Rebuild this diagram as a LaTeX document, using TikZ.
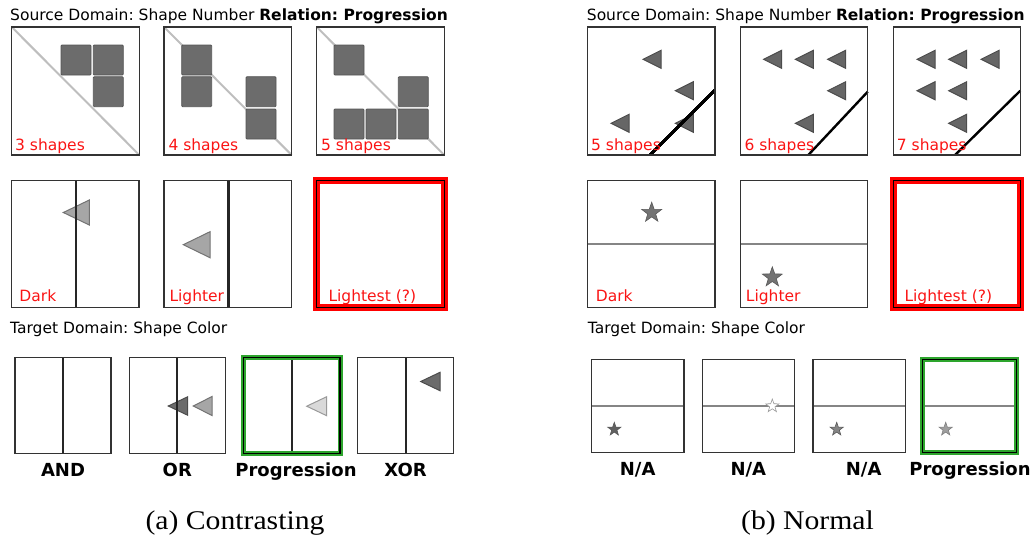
\documentclass[tikz,border=0pt]{standalone}
\usepackage{fontspec}
\usepackage{graphicx}
\usepackage{xcolor}
\usetikzlibrary{shapes.geometric}
\newfontfamily\dejavu{DejaVu Sans}
\newfontfamily\capserif{Liberation Serif}
\frenchspacing
\definecolor{sqfill}{RGB}{108,108,108}
\definecolor{sqedge}{RGB}{85,85,85}
\definecolor{diaggray}{RGB}{190,190,190}
\definecolor{progreen}{RGB}{45,165,45}
\definecolor{lblred}{RGB}{250,20,20}
\tikzset{
  frame/.style={draw=black!80, line width=1.2pt},
  squareshape/.style={fill=sqfill, draw=sqedge, line width=0.8pt, rounded corners=1pt},
  divider/.style={draw=black!85, line width=2.6pt},
  hdivider/.style={draw=black!48, line width=2.6pt},
  trimid/.style={fill=black!35, draw=black!55, line width=1pt},
  tridark/.style={fill=black!58, draw=black!70, line width=1pt},
  tripale/.style={fill=black!15, draw=black!40, line width=1pt},
  starshape/.style={star, star points=5, star point ratio=2.5, inner sep=0pt, draw=black!65, line width=0.6pt},
  title/.style={anchor=base west, inner sep=0pt, font=\dejavu\fontsize{15.5}{18}\selectfont},
  redlbl/.style={anchor=base west, inner sep=0pt, text=lblred, font=\dejavu\fontsize{15.5}{18}\selectfont},
  answer/.style={anchor=base, inner sep=0pt, font=\dejavu\bfseries\fontsize{18}{20}\selectfont},
  subcap/.style={anchor=base, inner sep=0pt, font=\capserif\fontsize{27}{30}\selectfont}
}
\newcommand{\lefttri}[5][]{\draw[#1] ({#2-#4},#3) -- (#2,{#3-#5/2}) -- (#2,{#3+#5/2}) -- cycle;}

\begin{document}
\begin{tikzpicture}[x=1pt,y=-1pt]
\path[use as bounding box] (0,0) rectangle (1035,539);

\node[title] (srcA) at (10,20.7) {Source Domain: Shape Number {\bfseries Relation: Progression}};
\foreach \bx in {11.7,164,316.7}
  \draw[diaggray, line width=2pt] (\bx,27) -- ({\bx+127.6},155);
\foreach \sx/\sy in {61/45,93.3/45,93.3/76.7, 181.7/45,181.7/76.7,246/76.7,246/109, 334/45,398.3/76.7,334/109,366/109,398.3/109}
  \draw[squareshape] (\sx,\sy) rectangle ++(30,30);
\foreach \bx in {11.7,164,316.7}
  \draw[frame] (\bx,27) rectangle ++(127.6,128);
\node[redlbl] (n3) at (15,150.7) {3 shapes};
\node[redlbl] (n4) at (168.3,150.7) {4 shapes};
\node[redlbl] (n5) at (321,150.7) {5 shapes};

\lefttri[trimid]{89.3}{212.5}{26}{25}
\lefttri[trimid]{210}{244.7}{26.7}{26}
\draw[divider] (76,180.7) -- (76,307.7);
\draw[divider] (228.3,180.7) -- (228.3,307.7);
\draw[frame] (11.7,180.7) rectangle (139,307.7);
\draw[frame] (164,180.7) rectangle (291.7,307.7);
\draw[red, line width=6.5pt] (316.7,180.7) rectangle (444.3,307.3);
\draw[black, line width=1.5pt] (316.7,180.7) rectangle (444.3,307.3);
\node[redlbl] (dkA) at (19.3,301) {Dark};
\node[redlbl] (ltA) at (169.3,301) {Lighter};
\node[redlbl] (lsA) at (328.3,301) {Lightest (?)};

\node[title] (tgtA) at (10,333.3) {Target Domain: Shape Color};
\lefttri[tridark]{187.7}{406}{19.4}{18.5}
\lefttri[trimid]{212}{406}{18.7}{19}
\lefttri[tripale]{326.7}{406.2}{20}{19}
\lefttri[tridark]{440}{381.5}{19.3}{18.4}
\foreach \bx/\bw in {15/96,129.3/96,243.3/96.7,357.7/95.6}
  \draw[divider, line width=2pt] ({\bx+\bw/2},357.7) -- ({\bx+\bw/2},453.3);
\draw[frame] (15,357.7) rectangle (111,453.3);
\draw[frame] (129.3,357.7) rectangle (225.3,453.3);
\draw[progreen, line width=5pt] (243.3,357.7) rectangle (340,453.3);
\draw[black, line width=1.3pt] (243.3,357.7) rectangle (340,453.3);
\draw[frame] (357.7,357.7) rectangle (453.3,453.3);
\node[answer] (andA) at (63,476.7) {AND};
\node[answer] (orA) at (177.3,476.7) {OR};
\node[answer] (prA) at (296,476.7) {Progression};
\node[answer] (xorA) at (405.5,476.7) {XOR};
\node[subcap] (capA) at (235,529) {\scalebox{1.1}[1]{(a) Contrasting}};

\node[title] (srcB) at (586.7,20.7) {Source Domain: Shape Number {\bfseries Relation: Progression}};
\foreach \rx/\cy in {661/59.3,693.3/90.7,629/123.3,693.3/123.3, 781.7/59.3,813.3/59.3,845.7/59.3,845.7/90.7,813.3/123.3, 935/59.3,966.7/59.3,999/59.3,935/90.7,966.7/90.7,966.7/123.3}
  \lefttri[tridark, fill=black!60]{\rx}{\cy}{18}{18}
\draw[black, line width=2.4pt] (650,155) -- (715,90);
\draw[black, line width=2.4pt] (808.3,155) -- (867.7,91.7);
\draw[black, line width=2.4pt] (955,155) -- (1020.3,90.7);
\draw[frame] (587.7,27) rectangle (715,155);
\draw[frame] (740.7,27) rectangle (867.7,155);
\draw[frame] (893.3,27) rectangle (1020.3,155);
\node[redlbl] (n5B) at (591,150.7) {5 shapes};
\node[redlbl] (n6B) at (744.3,150.7) {6 shapes};
\node[redlbl] (n7B) at (896.7,150.7) {7 shapes};

\draw[hdivider] (587.7,244) -- (715,244);
\draw[hdivider] (740.7,244) -- (867.7,244);
\node[starshape, fill=black!55, minimum size=21pt] (stDk) at (651.7,212.7) {};
\node[starshape, fill=black!55, minimum size=21pt] (stLt) at (772.3,277.3) {};
\draw[frame] (587.7,180.7) rectangle (715,307.7);
\draw[frame] (740.7,180.7) rectangle (867.7,307.7);
\draw[red, line width=6.5pt] (893.3,180.7) rectangle (1020.3,307.3);
\draw[black, line width=1.5pt] (893.3,180.7) rectangle (1020.3,307.3);
\node[redlbl] (dkB) at (595.7,301) {Dark};
\node[redlbl] (ltB) at (745.7,301) {Lighter};
\node[redlbl] (lsB) at (904.3,301) {Lightest (?)};

\node[title] (tgtB) at (587.7,333.3) {Target Domain: Shape Color};
\foreach \bx/\bw in {591.7/92.3,702.3/92,813/92.7,922.7/94}
  \draw[hdivider, line width=2.2pt] (\bx,406) -- ({\bx+\bw},406);
\node[starshape, fill=black!62, minimum size=14pt] (st1) at (614.3,429.3) {};
\node[starshape, fill=white, draw=black!40, minimum size=14pt] (st2) at (772.3,406) {};
\node[starshape, fill=black!48, minimum size=14pt] (st3) at (836.7,429.3) {};
\node[starshape, fill=black!38, draw=black!50, minimum size=14pt] (st4) at (945.7,429.3) {};
\draw[frame] (591.7,359.3) rectangle (684,452.3);
\draw[frame] (702.3,359.3) rectangle (794.3,452.3);
\draw[frame] (813,359.3) rectangle (905.7,452.3);
\draw[progreen, line width=5pt] (922.7,359.3) rectangle (1016.7,452.3);
\draw[black, line width=1.3pt] (922.7,359.3) rectangle (1016.7,452.3);
\node[answer] (na1) at (637.7,475) {N/A};
\node[answer] (na2) at (748.3,475) {N/A};
\node[answer] (na3) at (863.7,475) {N/A};
\node[answer] (prB) at (970,475) {Progression};
\node[subcap] (capB) at (807.5,529) {\scalebox{1.1}[1]{(b) Normal}};
\end{tikzpicture}
\end{document}
